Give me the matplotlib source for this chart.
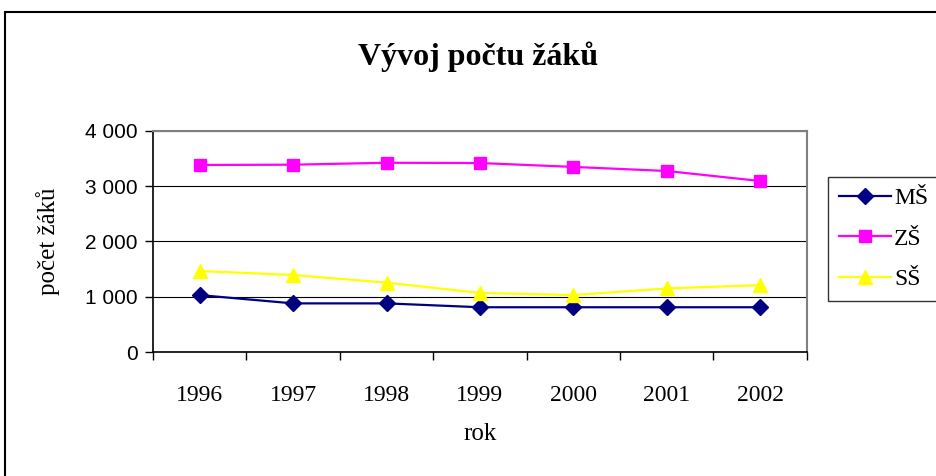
import matplotlib
matplotlib.use('Agg')
import matplotlib.pyplot as plt
import numpy as np
from matplotlib.patches import Rectangle
from matplotlib.ticker import FuncFormatter

# data
years = ['1996', '1997', '1998', '1999', '2000', '2001', '2002']
ms = [1030, 880, 880, 810, 810, 810, 810]
zs = [3385, 3390, 3425, 3420, 3350, 3276, 3095]
ss = [1466, 1394, 1255, 1070, 1030, 1150, 1210]

serif = 'Liberation Serif'
sans = 'Liberation Sans'

fig = plt.figure(figsize=(9.36, 4.76), dpi=100)
ax = fig.add_axes([0.1635, 0.2605, 0.6985, 0.4643])

x = np.arange(len(years))
ax.plot(x, ms, color='#000080', marker='D', markersize=8, lw=1.6, label='MŠ')
ax.plot(x, zs, color='#FF00FF', marker='s', markersize=9, lw=1.6, label='ZŠ')
ax.plot(x, ss, color='#FFFF00', marker='^', markersize=10, lw=1.6, label='SŠ')

ax.set_xlim(-0.5, len(years) - 0.5)
ax.set_ylim(0, 4000)
ax.set_yticks([0, 1000, 2000, 3000, 4000])
ax.yaxis.set_major_formatter(FuncFormatter(lambda v, p: f'{int(v):,}'.replace(',', ' ')))
for lab in ax.get_yticklabels():
    lab.set_fontfamily(sans)
    lab.set_fontsize(15)
ax.tick_params(axis='y', direction='out', length=6, width=1, pad=5)

ax.set_xticks(x)
ax.set_xticklabels(years, fontfamily=serif, fontsize=17)
ax.set_xticks(np.arange(-0.5, len(years)), minor=True)
ax.tick_params(axis='x', which='major', length=0, pad=24)
ax.tick_params(axis='x', which='minor', direction='out', length=6, width=1)

ax.grid(axis='y', color='black', lw=0.8)
ax.set_axisbelow(True)
for s in ['top', 'right']:
    ax.spines[s].set_color('#808080')
    ax.spines[s].set_linewidth(1.5)
for s in ['left', 'bottom']:
    ax.spines[s].set_color('black')
    ax.spines[s].set_linewidth(1.2)

ax.set_xlabel('rok', fontfamily=serif, fontsize=18, labelpad=12)
ax.set_ylabel('počet žáků', fontfamily=serif, fontsize=18, labelpad=18)

fig.text(0.511, 0.88, 'Vývoj počtu žáků', ha='center', va='center',
         fontfamily=serif, fontsize=23, fontweight='bold')

leg = fig.legend(loc='upper left', bbox_to_anchor=(828 / 936, 1 - 177 / 476),
                 frameon=True, fancybox=False, edgecolor='black',
                 prop={'family': serif, 'size': 17}, handlelength=2.2,
                 borderpad=0.45, labelspacing=0.8, handletextpad=0.15,
                 borderaxespad=0)
leg.get_frame().set_linewidth(1.0)

# chart border
fig.patches.append(Rectangle((5 / 936, -0.1), 1.1, 1 - 12 / 476 + 0.1,
                             transform=fig.transFigure, fill=False,
                             edgecolor='black', lw=1.5, clip_on=False))

fig.savefig('out.png', dpi=100)
